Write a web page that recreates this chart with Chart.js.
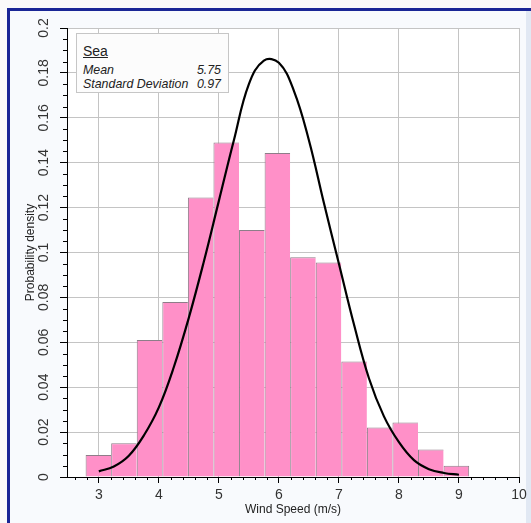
<!DOCTYPE html>
<html>
<head>
<meta charset="utf-8">
<title>Sea wind speed histogram</title>
<script src="https://cdn.jsdelivr.net/npm/chart.js@4.4.1/dist/chart.umd.min.js"></script>
<style>
  body { margin: 0; background: #fafafa; }
  #wrap { position: relative; width: 531px; height: 523px; overflow: hidden; }
  #frame { position: absolute; left: 7px; top: 8px; width: 540px; height: 540px;
           background: #f8fafd; border-left: 3px solid #1a2696; border-top: 3px solid #1a2696; }
  #rightEdge { position: absolute; left: 526px; top: 11px; width: 5px; height: 512px; background: #e1e8f3; }
  canvas { position: absolute; left: 0; top: 0; }
  #stats { position: absolute; left: 76px; top: 33px; width: 153px; height: 60px; box-sizing: border-box;
           background: #fcfcfc; border: 1px solid #c6c6c6; font-family: 'Liberation Sans', Arial, sans-serif; color: #222; }
  #statsTitle { position: absolute; left: 6px; top: 9px; font-size: 14px; line-height: 16px; text-decoration: underline; }
  .row { position: absolute; left: 6px; right: 7px; font-size: 12.4px; line-height: 14px; font-style: italic; }
  .row .val { position: absolute; right: 0; top: 0; }
</style>
</head>
<body>
<div id="wrap">
  <div id="frame"></div>
  <div id="rightEdge"></div>
  <canvas id="myChart" width="531" height="523"></canvas>
  <div id="stats">
    <div id="statsTitle"></div>
    <div class="row" id="row0" style="top:29px"><span class="name"></span><span class="val"></span></div>
    <div class="row" id="row1" style="top:43px"><span class="name"></span><span class="val"></span></div>
  </div>
</div>
<script>
// histogram bins (centre of each bin, m/s) and their density
var binCenters = [2.993, 3.419, 3.845, 4.271, 4.697, 5.123, 5.549, 5.975, 6.401, 6.827, 7.253, 7.679, 8.105, 8.531, 8.957];
var binDensity = [0.0098, 0.0150, 0.0610, 0.0780, 0.1245, 0.1490, 0.1100, 0.1443, 0.0979, 0.0956, 0.0515, 0.0221, 0.0243, 0.0123, 0.0050];

// fitted curve
var curveX = [3, 3.25, 3.5, 3.75, 4, 4.25, 4.5, 4.75, 5, 5.25, 5.5, 5.75, 6, 6.25, 6.5, 6.75, 7, 7.25, 7.5, 7.75, 8, 8.25, 8.5, 8.75, 9];
var curveY = [0.0025, 0.0047, 0.0095, 0.0185, 0.031, 0.049, 0.071, 0.096, 0.123, 0.150, 0.175, 0.1855, 0.1845, 0.172, 0.150, 0.122, 0.095, 0.068, 0.044, 0.027, 0.0155, 0.0075, 0.0035, 0.0018, 0.0010];

// stats box
var seriesName = "Sea";
var statNames = ["Mean", "Standard Deviation"];
var statValues = ["5.75", "0.97"];

document.getElementById("statsTitle").textContent = seriesName;
for (var i = 0; i < statNames.length; i++) {
  var row = document.getElementById("row" + i);
  row.querySelector(".name").textContent = statNames[i];
  row.querySelector(".val").textContent = statValues[i];
}

var tickFont = "'Liberation Sans Narrow', 'Liberation Sans', Arial, sans-serif";
var titleFont = "'Liberation Sans', Arial, sans-serif";

// white plot area
var plotBg = {
  id: "plotBg",
  beforeDraw: function (chart) {
    var a = chart.chartArea;
    chart.ctx.save();
    chart.ctx.fillStyle = "#ffffff";
    chart.ctx.fillRect(a.left, a.top, a.right - a.left, a.bottom - a.top);
    chart.ctx.restore();
  }
};

// small ticks between the labelled ones
var minorTicks = {
  id: "minorTicks",
  afterDraw: function (chart) {
    var ctx = chart.ctx;
    var x = chart.scales.x;
    var y = chart.scales.y;
    ctx.save();
    ctx.strokeStyle = "#000";
    ctx.lineWidth = 1;
    ctx.beginPath();
    for (var i = 13; i <= 50; i++) {
      if (i % 5 == 0) continue;
      var px = Math.round(x.getPixelForValue(i * 0.2)) + 0.5;
      ctx.moveTo(px, x.top);
      ctx.lineTo(px, x.top + 3);
    }
    for (var j = 0; j <= 40; j++) {
      if (j % 4 == 0) continue;
      var py = Math.round(y.getPixelForValue(j * 0.005)) + 0.5;
      ctx.moveTo(y.right - 4, py);
      ctx.lineTo(y.right, py);
    }
    ctx.stroke();
    ctx.restore();
  }
};

var ctx = document.getElementById("myChart").getContext("2d");
var myChart = new Chart(ctx, {
  type: "bar",
  data: {
    datasets: [
      {
        type: "line",
        order: 0,
        data: curveX.map(function (v, i) { return { x: v, y: curveY[i] }; }),
        borderColor: "#000000",
        borderWidth: 2.2,
        pointRadius: 0,
        tension: 0.4,
        fill: false
      },
      {
        type: "bar",
        order: 1,
        data: binCenters.map(function (v, i) { return { x: v, y: binDensity[i] }; }),
        backgroundColor: "#ff90c8",
        borderColor: "#8e7d89",
        borderWidth: function (c) {
          return { top: 1, left: 1, right: c.dataIndex == binCenters.length - 1 ? 1 : 0, bottom: 0 };
        },
        inflateAmount: 0,
        barPercentage: 1,
        categoryPercentage: 1
      }
    ]
  },
  options: {
    responsive: false,
    animation: false,
    layout: { padding: { left: 0, top: 28, right: 12, bottom: 0 } },
    plugins: {
      legend: { display: false },
      tooltip: { enabled: false }
    },
    scales: {
      x: {
        type: "linear",
        min: 2.47,
        max: 10,
        offset: false,
        grid: { color: "#c4c4c4", tickColor: "#000", tickLength: 6, offset: false },
        border: { color: "#000", width: 1 },
        ticks: {
          stepSize: 1,
          includeBounds: false,
          autoSkip: false,
          maxRotation: 0,
          padding: 4,
          color: "#333",
          font: { family: tickFont, size: 14 }
        },
        title: {
          display: true,
          text: "Wind Speed (m/s)",
          color: "#222",
          font: { family: titleFont, size: 12 },
          padding: { top: 0, bottom: 6 }
        },
        afterFit: function (s) { s.height = 46; }
      },
      y: {
        min: 0,
        max: 0.2,
        grid: { color: "#c4c4c4", tickColor: "#000", tickLength: 7 },
        border: { color: "#000", width: 1 },
        ticks: {
          stepSize: 0.02,
          minRotation: 90,
          maxRotation: 90,
          crossAlign: "center",
          padding: 2,
          color: "#333",
          font: { family: tickFont, size: 14 },
          callback: function (v) { return String(+v.toFixed(3)); }
        },
        title: {
          display: true,
          text: "Probability density",
          color: "#222",
          font: { family: titleFont, size: 12 },
          padding: { top: 23, bottom: 0 }
        },
        afterFit: function (s) { s.width = 67; }
      }
    }
  },
  plugins: [plotBg, minorTicks]
});
</script>
</body>
</html>
